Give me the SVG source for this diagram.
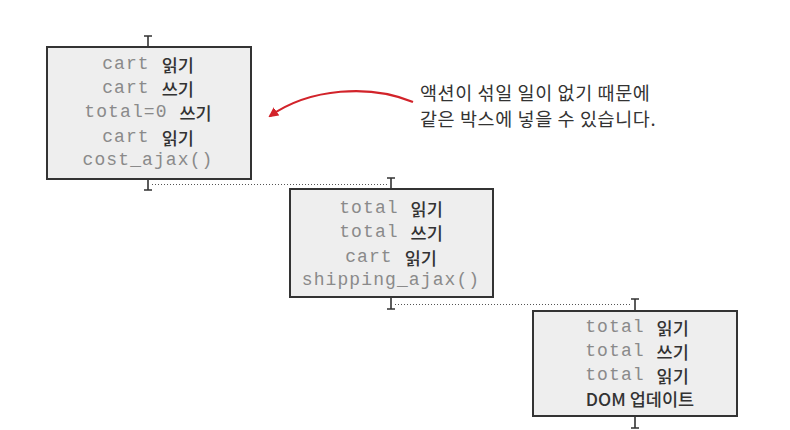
<svg xmlns="http://www.w3.org/2000/svg" width="790" height="430" viewBox="0 0 790 430">
<style>
.box{fill:#eeeeee;stroke:#333;stroke-width:2}
.t{font-size:18px;text-anchor:middle;dominant-baseline:central}
.m{font-family:"Liberation Mono","DejaVu Sans Mono",monospace;fill:#8a8a8a;letter-spacing:1.1px}
.k{font-family:"Noto Sans CJK KR","Noto Sans",sans-serif;fill:#333;font-weight:500;letter-spacing:0;font-size:17.5px}
.tick{stroke:#333;stroke-width:1.6;fill:none}
.dot{stroke:#555;stroke-width:1;stroke-dasharray:1 2;fill:none}
.note{font-family:"Noto Sans CJK KR","Noto Sans",sans-serif;font-size:18.5px;letter-spacing:0.6px;fill:#333;dominant-baseline:central}
</style>
<defs>
<marker id="ah" markerWidth="10" markerHeight="10" refX="8" refY="5" orient="auto" markerUnits="userSpaceOnUse">
<path d="M0,0 L10,5 L0,10 Z" fill="#d2232a"/>
</marker>
</defs>
<g id="connectors">
<path class="tick" d="M148,36 V46 M144,36 H152 M148,179 V190 M144,190 H152"/>
<path class="dot" d="M152,184.5 H388"/>
<path class="tick" d="M391,178 V189 M387,178 H395 M391,297 V309 M387,309 H395"/>
<path class="dot" d="M395,304.5 H632"/>
<path class="tick" d="M635,299 V311 M631,299 H639 M635,416 V428 M631,428 H639"/>
<path d="M413,102 C370,84 310,88 270,116" fill="none" stroke="#d2232a" stroke-width="2.2" marker-end="url(#ah)"/>
</g>
<g id="box1">
<rect class="box" x="47" y="47" width="204" height="132"/>
<text class="t" x="148" y="64"><tspan class="m">cart </tspan><tspan class="k">읽기</tspan></text>
<text class="t" x="148" y="88"><tspan class="m">cart </tspan><tspan class="k">쓰기</tspan></text>
<text class="t" x="148" y="112"><tspan class="m">total=0 </tspan><tspan class="k">쓰기</tspan></text>
<text class="t" x="148" y="137"><tspan class="m">cart </tspan><tspan class="k">읽기</tspan></text>
<text class="t m" x="148" y="160">cost_ajax()</text>
</g>
<g id="box2">
<rect class="box" x="290" y="189" width="203" height="108"/>
<text class="t" x="391" y="208"><tspan class="m">total </tspan><tspan class="k">읽기</tspan></text>
<text class="t" x="391" y="232"><tspan class="m">total </tspan><tspan class="k">쓰기</tspan></text>
<text class="t" x="391" y="257"><tspan class="m">cart </tspan><tspan class="k">읽기</tspan></text>
<text class="t m" x="391" y="280">shipping_ajax()</text>
</g>
<g id="box3">
<rect class="box" x="533" y="311" width="204" height="105"/>
<text class="t" x="637" y="327"><tspan class="m">total </tspan><tspan class="k">읽기</tspan></text>
<text class="t" x="637" y="351"><tspan class="m">total </tspan><tspan class="k">쓰기</tspan></text>
<text class="t" x="637" y="375"><tspan class="m">total </tspan><tspan class="k">읽기</tspan></text>
<text class="t k" x="640" y="398">DOM 업데이트</text>
</g>
<g id="note">
<text class="note" x="420" y="92">액션이 섞일 일이 없기 때문에</text>
<text class="note" x="420" y="118">같은 박스에 넣을 수 있습니다.</text>
</g>
</svg>
